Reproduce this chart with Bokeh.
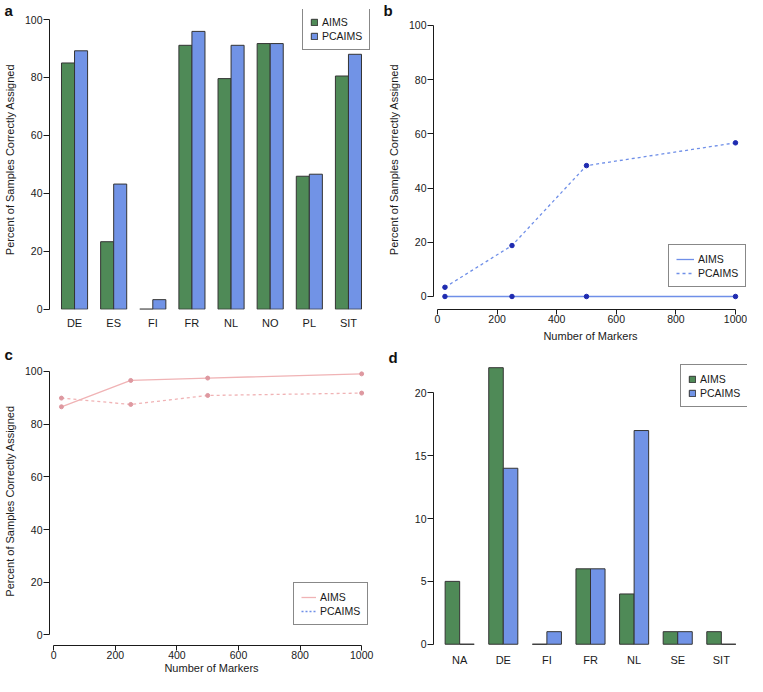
from bokeh.plotting import figure
from bokeh.models import (FactorRange, Range1d, Legend, LegendItem, Title, ColumnDataSource)
from bokeh.transform import dodge
from bokeh.layouts import column, row
from bokeh.embed import file_html
from bokeh.resources import INLINE

# ---------------- data ----------------
cats_a = ["DE", "ES", "FI", "FR", "NL", "NO", "PL", "SIT"]
aims_a = [85.0, 23.3, 0.0, 91.1, 79.6, 91.7, 45.9, 80.5]
pcaims_a = [89.2, 43.2, 3.3, 95.9, 91.1, 91.7, 46.6, 88.0]

markers = [25, 250, 500, 1000]
aims_b = [0.0, 0.0, 0.0, 0.0]
pcaims_b = [3.4, 18.8, 48.3, 56.7]

aims_c = [86.6, 96.6, 97.5, 99.1]
pcaims_c = [89.9, 87.5, 90.9, 91.8]

cats_d = ["NA", "DE", "FI", "FR", "NL", "SE", "SIT"]
aims_d = [5, 22, 0, 6, 4, 1, 1]
pcaims_d = [0, 14, 1, 6, 17, 1, 0]

pct_ticks = [0, 20, 40, 60, 80, 100]
marker_ticks = [0, 200, 400, 600, 800, 1000]
count_ticks = [0, 5, 10, 15, 20]

ylab = "Percent of Samples Correctly Assigned"
xlab = "Number of Markers"

# ---------------- style ----------------
FONT = "Liberation Sans"
GREEN = "#4f8a57"
BLUE = "#7193e6"
BORDER = "#343434"
LBLUE = "#6f8fe8"
DBLUE = "#1f2bb0"
PINK = "#f0b3b5"
DPINK = "#de98a0"
INK = "#1a1a1a"


def base(width, height, x_range, y_range, left, right, top, bottom):
    p = figure(width=width, height=height, x_range=x_range, y_range=y_range,
               output_backend="svg", toolbar_location=None,
               min_border_left=left, min_border_right=right,
               min_border_top=top, min_border_bottom=bottom)
    p.xgrid.visible = False
    p.ygrid.visible = False
    p.outline_line_color = None
    p.background_fill_color = "white"
    p.border_fill_color = "white"
    for ax in p.axis:
        ax.major_label_text_font = FONT
        ax.major_label_text_font_size = "10.5px"
        ax.major_label_text_color = INK
        ax.axis_label_text_font = FONT
        ax.axis_label_text_font_size = "11px"
        ax.axis_label_text_font_style = "normal"
        ax.axis_label_text_color = INK
        ax.axis_line_color = INK
        ax.major_tick_line_color = INK
        ax.minor_tick_line_color = None
        ax.major_tick_out = 6
        ax.major_tick_in = 0
        ax.major_label_standoff = 1
    return p


def style_legend(items, loc, gw, gh):
    lg = Legend(items=items, location=loc)
    lg.border_line_color = "#111111"
    lg.border_line_width = 1.5
    lg.background_fill_color = "white"
    lg.background_fill_alpha = 1.0
    lg.padding = 7
    lg.spacing = 1
    lg.margin = 0
    lg.glyph_width = gw
    lg.glyph_height = gh
    lg.label_standoff = 4
    lg.label_height = 13
    lg.label_text_font = FONT
    lg.label_text_font_size = "10.5px"
    lg.label_text_color = INK
    return lg


def letter(p, txt, offset, standoff):
    p.add_layout(Title(text=txt, align="left", vertical_align="bottom", offset=offset,
                       standoff=standoff, text_font=FONT, text_font_size="15px",
                       text_font_style="bold", text_color="#111111"), "above")


def bars(p, cats, a, b, tick_out):
    src = ColumnDataSource(dict(cat=cats, a=a, b=b))
    ra = p.vbar(x=dodge("cat", -1 / 6, range=p.x_range), top="a", bottom=0, width=1 / 3,
                source=src, fill_color=GREEN, line_color=BORDER, line_width=1)
    rb = p.vbar(x=dodge("cat", 1 / 6, range=p.x_range), top="b", bottom=0, width=1 / 3,
                source=src, fill_color=BLUE, line_color=BORDER, line_width=1)
    p.xaxis.axis_line_color = None
    p.xaxis.major_tick_line_color = None
    p.xaxis.major_tick_out = tick_out
    p.xaxis.major_label_standoff = 0
    p.xaxis.major_label_text_font_size = "11px"
    return ra, rb


# ---------------- panel a ----------------
pa = base(380, 344, FactorRange(factors=cats_a, range_padding=0.14, range_padding_units="absolute"),
          Range1d(-0.1, 103.46), 45, 7, 9, 35)
ra, rb = bars(pa, cats_a, aims_a, pcaims_a, 7)
pa.yaxis.bounds = (0, 100)
pa.yaxis.ticker = pct_ticks
pa.yaxis.axis_label = ylab
pa.yaxis.axis_label_standoff = 6
pa.add_layout(style_legend([LegendItem(label="AIMS", renderers=[ra]),
                            LegendItem(label="PCAIMS", renderers=[rb])], (253, 259), 8, 8))
letter(pa, "a", -45, -18)

# ---------------- panel b ----------------
pb = base(367, 344, Range1d(-13.4, 1040.3), Range1d(-4.80, 105.9), 53, 0, 9, 35)
lb1 = pb.line(markers, aims_b, line_color=LBLUE, line_width=1.3)
lb2 = pb.line(markers, pcaims_b, line_color=LBLUE, line_width=1.3, line_dash="3 3")
pb.scatter(markers, aims_b, size=4.5, color=DBLUE)
pb.scatter(markers, pcaims_b, size=4.5, color=DBLUE)
pb.xaxis.bounds = (0, 1000)
pb.xaxis.ticker = marker_ticks
pb.xaxis.major_tick_out = 5
pb.xaxis.major_label_standoff = 0
pb.xaxis.axis_label = xlab
pb.xaxis.axis_label_standoff = 4
pb.yaxis.bounds = (0, 100)
pb.yaxis.ticker = pct_ticks
pb.yaxis.axis_label = ylab
pb.yaxis.axis_label_standoff = 6
pb.add_layout(style_legend([LegendItem(label="AIMS", renderers=[lb1]),
                            LegendItem(label="PCAIMS", renderers=[lb2])], (235, 22), 18, 8))
letter(pb, "b", -50, -18)

# ---------------- panel c ----------------
pc = base(380, 332, Range1d(-13.8, 1038.5), Range1d(-4.0, 105.69), 45, 7, 12, 31)
lc1 = pc.line(markers, aims_c, line_color=PINK, line_width=1.3)
pc.line(markers, pcaims_c, line_color=PINK, line_width=1.3, line_dash="3 3")
pc.scatter(markers, aims_c, size=4, color=DPINK)
pc.scatter(markers, pcaims_c, size=4, color=DPINK)
# legend key only (the original legend shows a blue dotted key for PCAIMS)
lc2 = pc.line(markers, [float("nan")] * len(markers), line_color=LBLUE, line_width=1.3,
              line_dash="2 2")
pc.xaxis.bounds = (0, 1000)
pc.xaxis.ticker = marker_ticks
pc.xaxis.major_tick_out = 5
pc.xaxis.major_label_standoff = 0
pc.xaxis.axis_label = xlab
pc.xaxis.axis_label_standoff = 0
pc.yaxis.bounds = (0, 100)
pc.yaxis.ticker = pct_ticks
pc.yaxis.axis_label = ylab
pc.yaxis.axis_label_standoff = 6
pc.add_layout(style_legend([LegendItem(label="AIMS", renderers=[lc1]),
                            LegendItem(label="PCAIMS", renderers=[lc2])], (244, 20), 15, 8))
letter(pc, "c", -45, -12)

# ---------------- panel d ----------------
pd_ = base(367, 332, FactorRange(factors=cats_d, range_padding=0.1, range_padding_units="absolute"),
           Range1d(-0.1, 22.89), 53, 0, 12, 31)
rd1, rd2 = bars(pd_, cats_d, aims_d, pcaims_d, 8)
pd_.yaxis.bounds = (0, 20)
pd_.yaxis.ticker = count_ticks
pd_.add_layout(style_legend([LegendItem(label="AIMS", renderers=[rd1]),
                             LegendItem(label="PCAIMS", renderers=[rd2])], (247, 238), 8, 8))
letter(pd_, "d", -45, -18)

layout = column(row(pa, pb), row(pc, pd_))

open("out.html", "w").write(file_html(layout, INLINE))
